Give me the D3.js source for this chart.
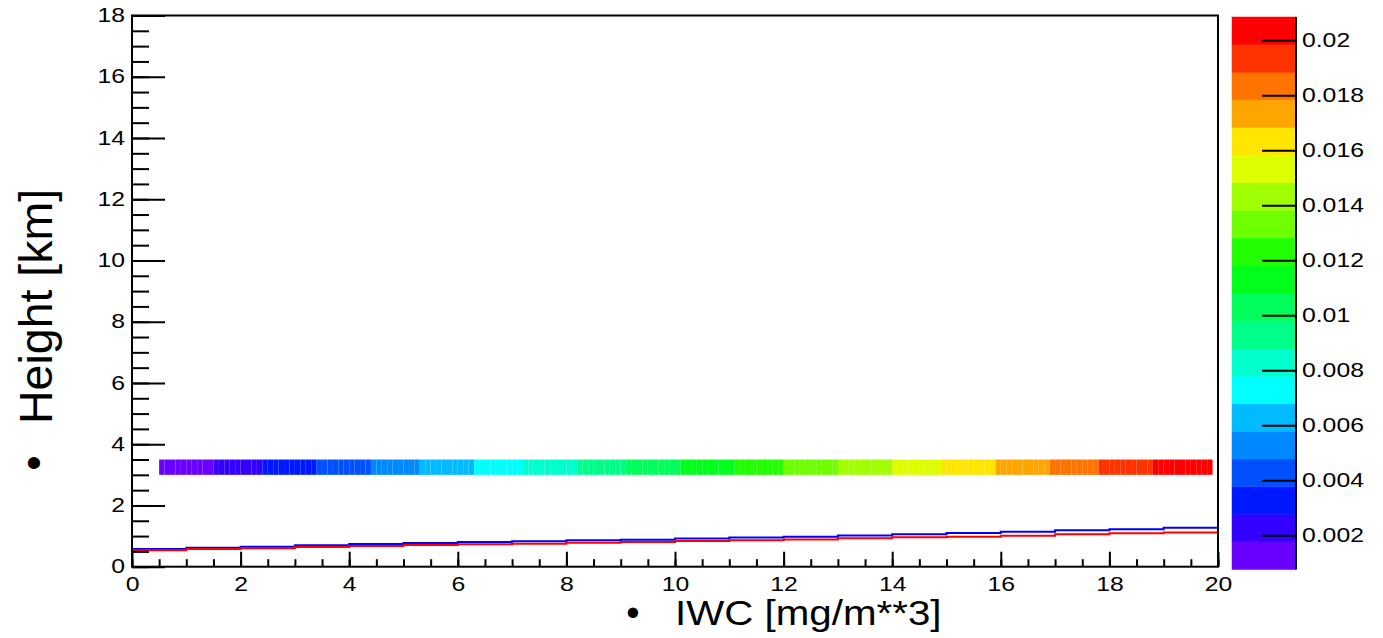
<!DOCTYPE html>
<html>
<head>
<meta charset="utf-8">
<script src="https://cdn.jsdelivr.net/npm/d3@7"></script>
<style>
  html, body { margin: 0; padding: 0; background: #fff; }
  svg { display: block; font-family: "Liberation Sans", Arial, Helvetica, sans-serif; }
</style>
</head>
<body>
<svg id="chart" width="1383" height="638"></svg>
<script>
// axis ranges
var xRange = [0, 20];
var yRange = [0, 18];
var xMajor = [0, 2, 4, 6, 8, 10, 12, 14, 16, 18, 20];
var yMajor = [0, 2, 4, 6, 8, 10, 12, 14, 16, 18];

// 2D histogram band (colz): one row of cells between 3 and 3.5 km
var bandY = [3.0, 3.5];
var bandEdges = [0.5, 1.5, 2.4, 3.4, 4.4, 5.3, 6.3, 7.2, 8.2, 9.1, 10.1,
                 11.1, 12.0, 13.0, 14.0, 14.9, 15.9, 16.9, 17.8, 18.8, 19.9];
var bandValues = [0.0013, 0.0023, 0.0033, 0.0043, 0.0053, 0.0063, 0.0073, 0.0083, 0.0093, 0.0103,
                  0.0113, 0.0123, 0.0133, 0.0143, 0.0153, 0.0163, 0.0173, 0.0183, 0.0193, 0.0203];

// step histograms, 1 unit bins from 0 to 20
var blueVals = [0.58, 0.62, 0.65, 0.70, 0.74, 0.77, 0.81, 0.83, 0.86, 0.88,
                0.92, 0.95, 0.98, 1.02, 1.06, 1.10, 1.14, 1.19, 1.22, 1.27];
var redVals  = [0.54, 0.58, 0.60, 0.64, 0.68, 0.71, 0.73, 0.75, 0.78, 0.81,
                0.84, 0.86, 0.89, 0.93, 0.96, 0.98, 1.01, 1.06, 1.09, 1.12];

// colour palette (bottom to top) and z range
var zRange = [0.00075, 0.02085];
var zTicks = [0.002, 0.004, 0.006, 0.008, 0.01, 0.012, 0.014, 0.016, 0.018, 0.02];
var palette = ["#6a00ff", "#3300ff", "#0018ff", "#0050ff", "#0088ff", "#00bbff", "#00ffff",
               "#00ffcc", "#00ff88", "#00ff5a", "#00ff1a", "#22ff00", "#6eff00", "#a0ff00",
               "#ddff00", "#ffe600", "#ffa500", "#ff7400", "#ff3300", "#ff0000"];

var padL = 132, padT = 15.5, padR = 1218, padB = 566.7;
var svg = d3.select("#chart");

var x = d3.scaleLinear().domain(xRange).range([padL, padR]);
var y = d3.scaleLinear().domain(yRange).range([padB, padT]);
var color = d3.scaleQuantize().domain(zRange).range(palette);

// band cells, 0.1 wide
var cells = [];
bandValues.forEach(function(v, i) {
    var x0 = bandEdges[i], n = Math.round((bandEdges[i + 1] - x0) / 0.1);
    d3.range(n).forEach(function(k) { cells.push({x0: x0 + k * 0.1, v: v}); });
});
svg.append("g").selectAll("rect").data(cells).enter().append("rect")
    .attr("x", function(d) { return x(d.x0); })
    .attr("width", x(0.1) - x(0))
    .attr("y", y(bandY[1]))
    .attr("height", y(bandY[0]) - y(bandY[1]))
    .attr("fill", function(d) { return color(d.v); });

// step lines
function stepPoints(vals) {
    var pts = [];
    vals.forEach(function(v, i) { pts.push([i, v]); pts.push([i + 1, v]); });
    return pts;
}
var line = d3.line().x(function(d) { return x(d[0]); }).y(function(d) { return y(d[1]); });
svg.append("path").attr("d", line(stepPoints(blueVals)))
    .attr("fill", "none").attr("stroke", "#0000ff").attr("stroke-width", 2);
svg.append("path").attr("d", line(stepPoints(redVals)))
    .attr("fill", "none").attr("stroke", "#ff0000").attr("stroke-width", 2);

// frame
svg.append("rect").attr("x", padL).attr("y", padT)
    .attr("width", padR - padL).attr("height", padB - padT)
    .attr("fill", "none").attr("stroke", "#000").attr("stroke-width", 2);

// labels in the reference are wider than the font, so stretch them a bit
var stretch = 1.27;
function styleAxis(g) {
    g.select(".domain").remove();
    g.attr("font-family", null).attr("font-size", null);
    g.selectAll("line").attr("stroke", "#000").attr("stroke-width", 2);
    g.selectAll("text")
        .attr("font-size", 19.5).attr("fill", "#000")
        .attr("x", function() { return (+d3.select(this).attr("x") || 0) / stretch; })
        .attr("transform", "scale(" + stretch + ",1)");
}

// y axis
svg.append("g").attr("transform", "translate(" + padL + ",0)")
    .call(d3.axisLeft(y).tickValues(d3.range(0, 18.01, 0.5)).tickSize(-17).tickFormat(""))
    .call(styleAxis);
svg.append("g").attr("transform", "translate(" + padL + ",0)")
    .call(d3.axisLeft(y).tickValues(yMajor).tickSize(-33).tickPadding(7).tickFormat(d3.format("d")))
    .call(styleAxis);

// x axis
svg.append("g").attr("transform", "translate(0," + padB + ")")
    .call(d3.axisBottom(x).tickValues(d3.range(0, 20.01, 0.5)).tickSize(-7.5).tickFormat(""))
    .call(styleAxis);
svg.append("g").attr("transform", "translate(0," + padB + ")")
    .call(d3.axisBottom(x).tickValues(xMajor).tickSize(-15).tickPadding(10).tickFormat(d3.format("d")))
    .call(styleAxis);

// axis titles
svg.append("text").attr("x", 633).attr("y", 626).attr("text-anchor", "middle")
    .attr("font-size", 38).text("\u2022");
svg.append("text").attr("transform", "translate(675,625) scale(1.12,1)")
    .attr("font-size", 36).text("IWC [mg/m**3]");
svg.append("text").attr("transform", "translate(49,463) rotate(-90)").attr("text-anchor", "middle")
    .attr("font-size", 44).text("\u2022");
svg.append("text").attr("transform", "translate(51.7,424) rotate(-90)")
    .attr("font-size", 46.5).text("Height [km]");

// colour bar
var cbLeft = 1232, cbRight = 1296, cbTop = 17, cbBottom = 569.5;
var z = d3.scaleLinear().domain(zRange).range([cbBottom, cbTop]);
var step = (zRange[1] - zRange[0]) / palette.length;
svg.append("g").selectAll("rect").data(palette).enter().append("rect")
    .attr("x", cbLeft).attr("width", cbRight - cbLeft)
    .attr("y", function(d, i) { return z(zRange[0] + (i + 1) * step); })
    .attr("height", function(d, i) { return z(zRange[0] + i * step) - z(zRange[0] + (i + 1) * step); })
    .attr("fill", function(d) { return d; })
    .attr("stroke", function(d) { return d; }).attr("stroke-width", 0.5);
svg.append("line").attr("x1", cbRight).attr("x2", cbRight).attr("y1", cbTop).attr("y2", cbBottom)
    .attr("stroke", "#000").attr("stroke-width", 2);
svg.append("g").attr("transform", "translate(" + cbRight + ",0)")
    .call(d3.axisRight(z).tickValues(zTicks).tickSize(-34).tickPadding(6)
        .tickFormat(function(d) { return String(+d.toFixed(4)); }))
    .call(styleAxis);
</script>
</body>
</html>
